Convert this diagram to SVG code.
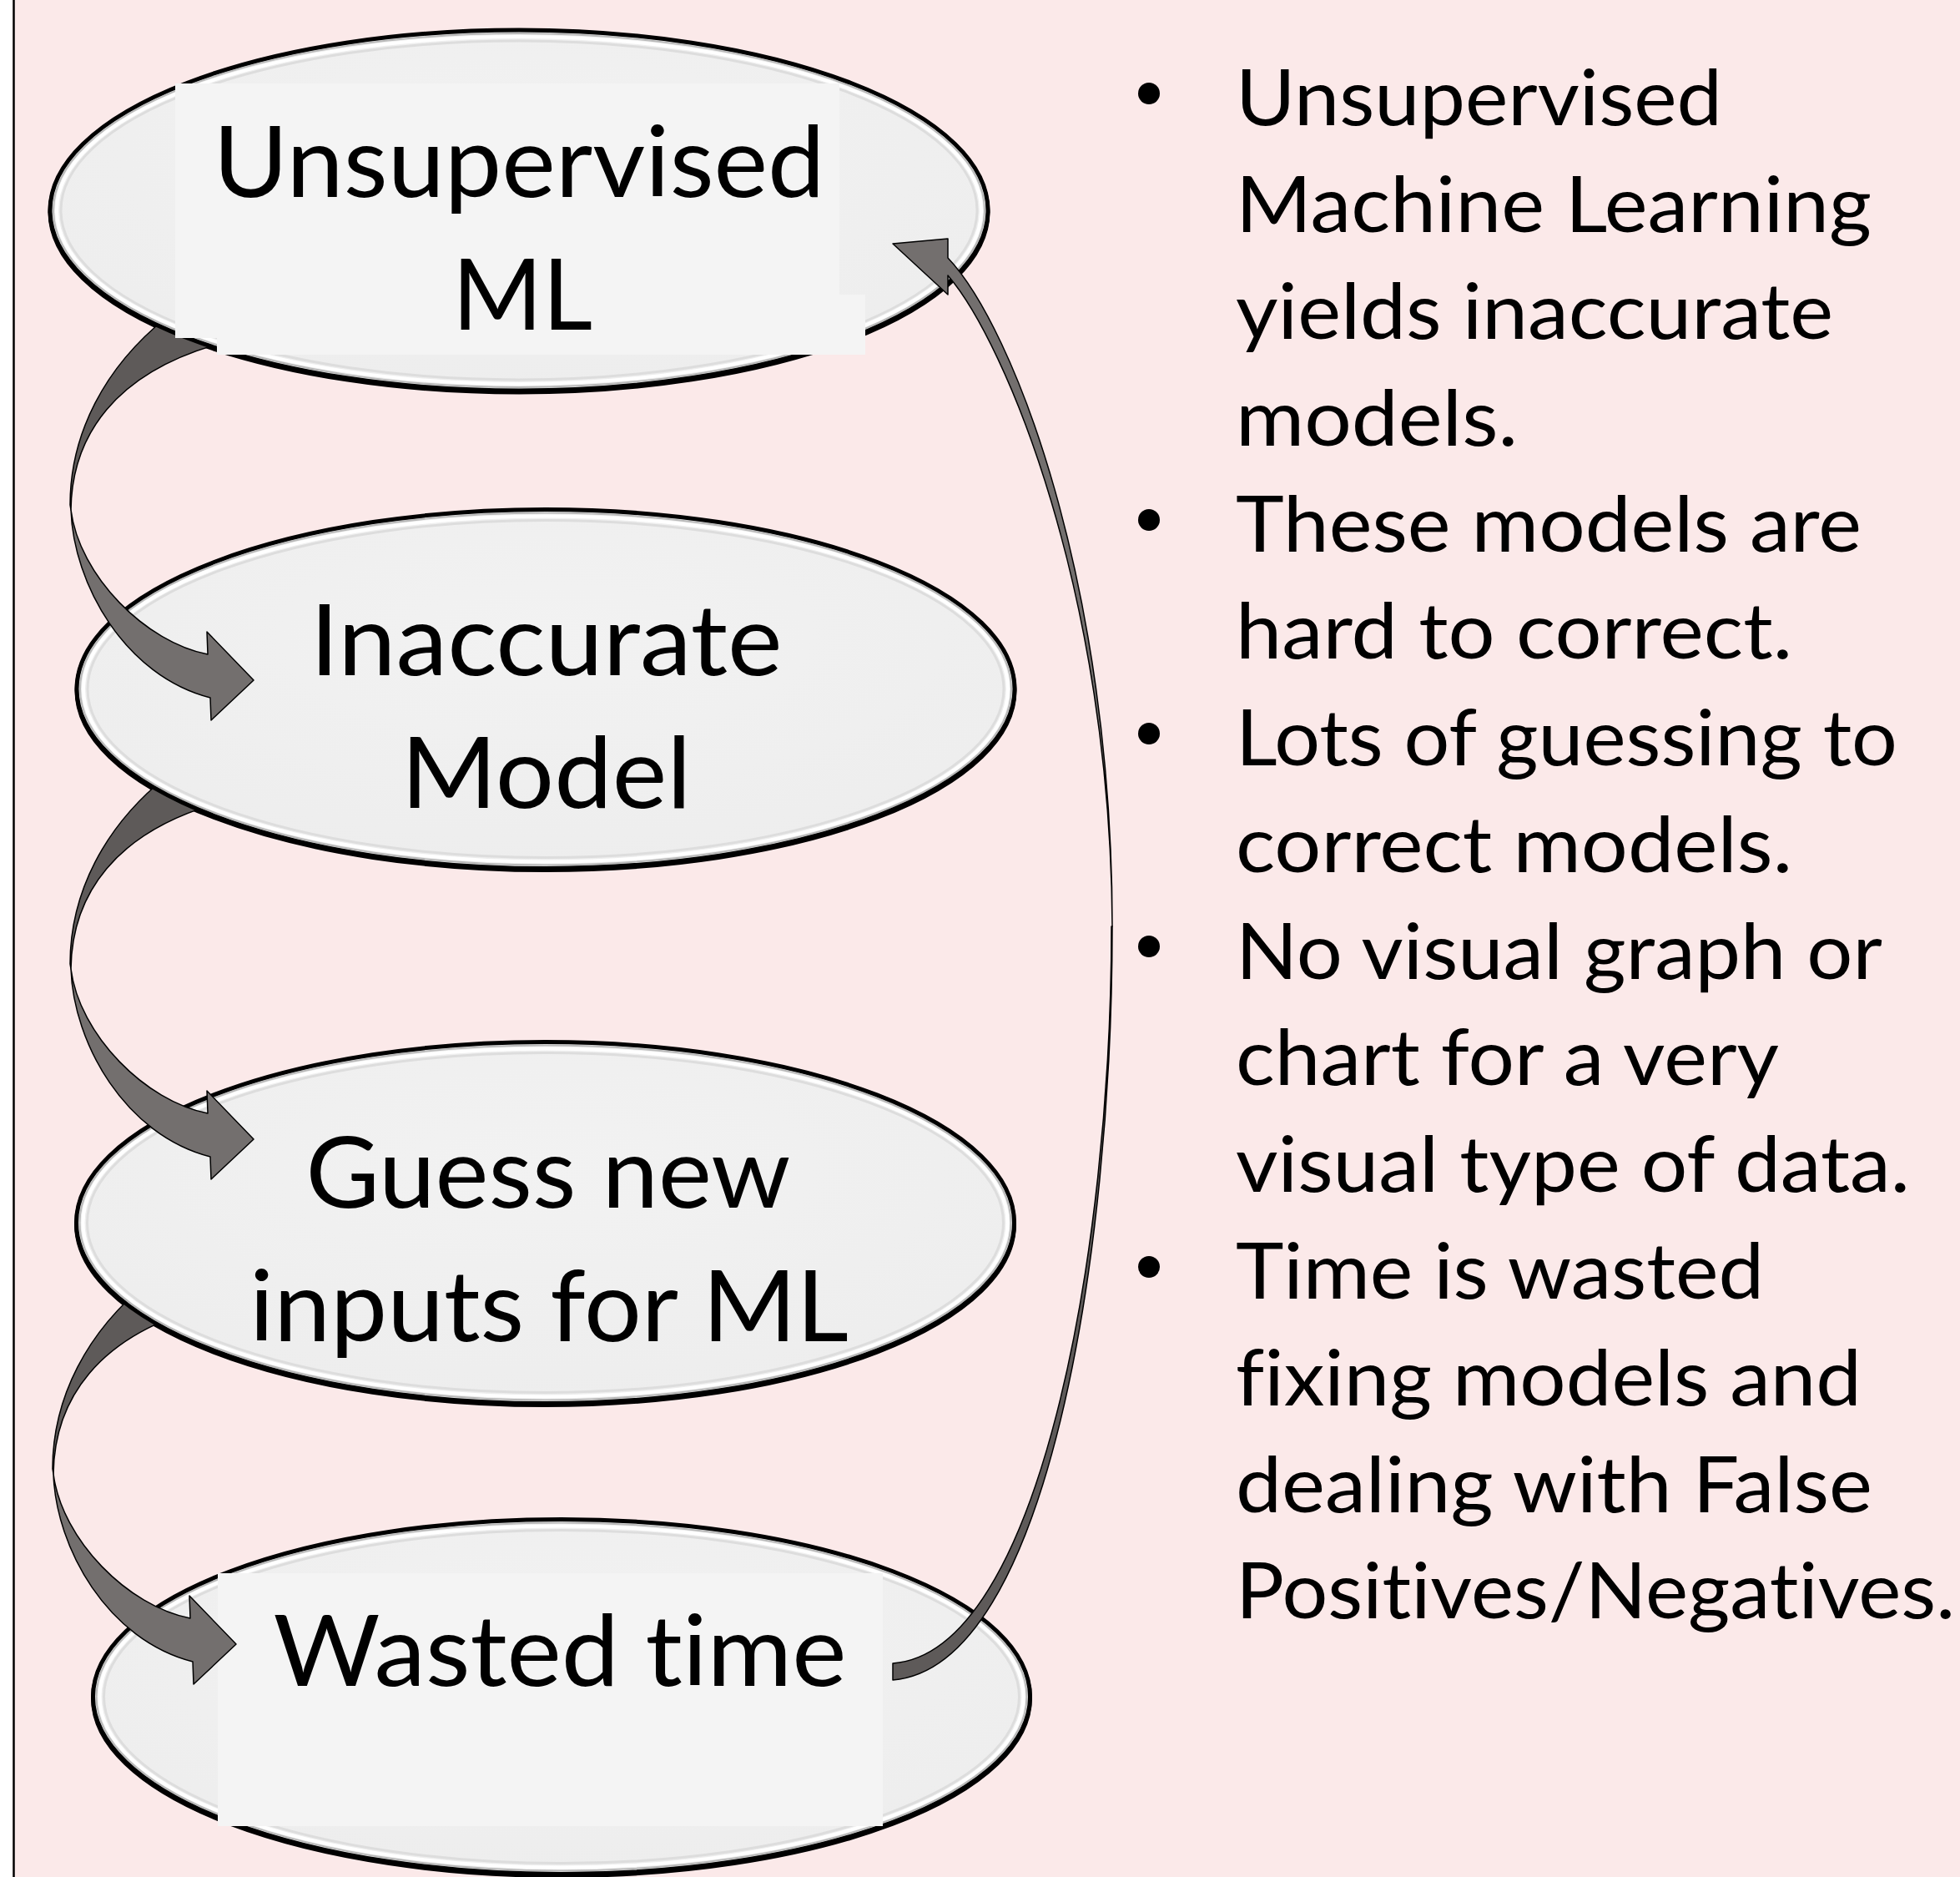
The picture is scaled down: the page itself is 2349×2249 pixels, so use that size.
<svg xmlns="http://www.w3.org/2000/svg" width="2349" height="2249" viewBox="0 0 2349 2249">
  <defs>
    <style>
      .bubble{fill:url(#bubbleFill);stroke:#000;stroke-width:5}
      .shade{fill:none;stroke:#000;stroke-width:5}
      .bevel{fill:none;stroke:#8c8c8c;stroke-width:2;opacity:.55}
      .glint{fill:none;stroke:#fff;stroke-width:4}
      .soft{fill:none;stroke:#dddddd;stroke-width:3}
      .tbox{fill:#f4f4f4}
      text{font-variant-ligatures:none;font-feature-settings:"liga" 0,"clig" 0,"dlig" 0}
      .lbl{font-family:Lato,"Open Sans","Liberation Sans",sans-serif;font-size:119px;fill:#000;text-anchor:middle}
      .note{font-family:Lato,"Open Sans","Liberation Sans",sans-serif;font-size:94px;fill:#000}
      .dot{fill:#000}
      .back{fill:#5e5a59;stroke:#000;stroke-width:1.5;stroke-linejoin:round}
      .front{fill:#736f6e;stroke:#000;stroke-width:1.5;stroke-linejoin:round}
    </style>
    <radialGradient id="bubbleFill" cx="50%" cy="35%" r="70%">
      <stop offset="0" stop-color="#f2f2f2"/>
      <stop offset="1" stop-color="#ededed"/>
    </radialGradient>
    <!-- curved ribbon arrow: darker back face (upper half) and lighter front face with head -->
    <path id="ribbonBack" class="back" d="M84,605 C84,520 125,440 200,380 L290,405 C130,440 86,530 85,611 Z"/>
    <path id="ribbonFront" class="front" d="M85,611 C88,700 150,810 252,836 L253,863 L304,815 L248,757 L249,784 C175,770 95,690 85,611 Z"/>
    <!-- masks hide each arrow tail beneath the bubble it leaves from -->
    <mask id="hide1" maskUnits="userSpaceOnUse" x="0" y="0" width="2349" height="2249">
      <rect x="0" y="0" width="2349" height="2249" fill="#fff"/>
      <ellipse cx="622" cy="252" rx="565" ry="219" fill="#000"/>
      <rect x="210" y="100" width="796" height="305" fill="#000"/>
      <rect x="260" y="353" width="777" height="72" fill="#000"/>
    </mask>
    <mask id="hide2" maskUnits="userSpaceOnUse" x="0" y="0" width="2349" height="2249">
      <rect x="0" y="0" width="2349" height="2249" fill="#fff"/>
      <ellipse cx="654" cy="825.5" rx="565" ry="218" fill="#000"/>
    </mask>
    <mask id="hide3" maskUnits="userSpaceOnUse" x="0" y="0" width="2349" height="2249">
      <rect x="0" y="0" width="2349" height="2249" fill="#fff"/>
      <ellipse cx="653.5" cy="1465" rx="565" ry="219" fill="#000"/>
    </mask>
  </defs>

  <!-- page background -->
  <rect x="0" y="0" width="2349" height="2249" fill="#fbe9e9"/>
  <rect x="0" y="0" width="15" height="2249" fill="#fff"/>
  <line x1="16.5" y1="0" x2="16.5" y2="2249" stroke="#000" stroke-width="2.5"/>

  <g id="node-unsupervised-ml">
    <ellipse class="shade" cx="622" cy="254" rx="562" ry="216"/>
    <ellipse class="bubble" cx="622" cy="252" rx="562" ry="216"/>
    <ellipse class="bevel" cx="622" cy="252" rx="558" ry="212"/>
    <ellipse class="glint" cx="622" cy="252" rx="554" ry="208"/>
    <ellipse class="soft" cx="622" cy="252" rx="549" ry="203"/>
    <rect class="tbox" x="210" y="100" width="796" height="305"/>
    <rect class="tbox" x="260" y="353" width="777" height="72"/>
    <text class="lbl" x="622" y="236" textLength="733" lengthAdjust="spacingAndGlyphs">Unsupervised</text>
    <text class="lbl" x="626" y="395" textLength="168" lengthAdjust="spacingAndGlyphs">ML</text>
  </g>

  <g id="node-inaccurate-model">
    <ellipse class="shade" cx="654" cy="827.5" rx="562" ry="215"/>
    <ellipse class="bubble" cx="654" cy="825.5" rx="562" ry="215"/>
    <ellipse class="bevel" cx="654" cy="825.5" rx="558" ry="211"/>
    <ellipse class="glint" cx="654" cy="825.5" rx="554" ry="207"/>
    <ellipse class="soft" cx="654" cy="825.5" rx="549" ry="202"/>
    <text class="lbl" x="654.5" y="809" textLength="566" lengthAdjust="spacingAndGlyphs">Inaccurate</text>
    <text class="lbl" x="654.5" y="968" textLength="348" lengthAdjust="spacingAndGlyphs">Model</text>
  </g>

  <g id="node-guess-inputs">
    <ellipse class="shade" cx="653.5" cy="1467" rx="562" ry="216.5"/>
    <ellipse class="bubble" cx="653.5" cy="1465" rx="562" ry="216.5"/>
    <ellipse class="bevel" cx="653.5" cy="1465" rx="558" ry="212.5"/>
    <ellipse class="glint" cx="653.5" cy="1465" rx="554" ry="208.5"/>
    <ellipse class="soft" cx="653.5" cy="1465" rx="549" ry="203.5"/>
    <text class="lbl" x="657" y="1447" textLength="581" lengthAdjust="spacingAndGlyphs">Guess new</text>
    <text class="lbl" x="658" y="1607" textLength="718" lengthAdjust="spacingAndGlyphs">inputs for ML</text>
  </g>

  <g id="node-wasted-time">
    <ellipse class="shade" cx="673" cy="2035" rx="561.5" ry="212.5"/>
    <ellipse class="bubble" cx="673" cy="2033" rx="561.5" ry="212.5"/>
    <ellipse class="bevel" cx="673" cy="2033" rx="557.5" ry="208.5"/>
    <ellipse class="glint" cx="673" cy="2033" rx="553.5" ry="204.5"/>
    <ellipse class="soft" cx="673" cy="2033" rx="548.5" ry="199.5"/>
    <rect class="tbox" x="261" y="1885" width="797" height="303"/>
    <text class="lbl" x="671" y="2020" textLength="687" lengthAdjust="spacingAndGlyphs">Wasted time</text>
  </g>

  <g id="notes">
    <circle class="dot" cx="1377" cy="112" r="13"/>
    <circle class="dot" cx="1377" cy="623" r="13"/>
    <circle class="dot" cx="1377" cy="879" r="13"/>
    <circle class="dot" cx="1377" cy="1134" r="13"/>
    <circle class="dot" cx="1377" cy="1518" r="13"/>
    <text class="note" x="1481" y="150" textLength="583" lengthAdjust="spacingAndGlyphs">Unsupervised</text>
    <text class="note" x="1481" y="278" textLength="762" lengthAdjust="spacingAndGlyphs">Machine Learning</text>
    <text class="note" x="1481" y="405.5" textLength="716" lengthAdjust="spacingAndGlyphs">yields inaccurate</text>
    <text class="note" x="1481" y="533.5" textLength="338" lengthAdjust="spacingAndGlyphs">models.</text>
    <text class="note" x="1481" y="661" textLength="750" lengthAdjust="spacingAndGlyphs">These models are</text>
    <text class="note" x="1481" y="789" textLength="667" lengthAdjust="spacingAndGlyphs">hard to correct.</text>
    <text class="note" x="1481" y="917" textLength="793" lengthAdjust="spacingAndGlyphs">Lots of guessing to</text>
    <text class="note" x="1481" y="1044.5" textLength="667" lengthAdjust="spacingAndGlyphs">correct models.</text>
    <text class="note" x="1481" y="1172.5" textLength="775" lengthAdjust="spacingAndGlyphs">No visual graph or</text>
    <text class="note" x="1481" y="1300" textLength="651" lengthAdjust="spacingAndGlyphs">chart for a very</text>
    <text class="note" x="1481" y="1428" textLength="808" lengthAdjust="spacingAndGlyphs">visual type of data.</text>
    <text class="note" x="1481" y="1556" textLength="633" lengthAdjust="spacingAndGlyphs">Time is wasted</text>
    <text class="note" x="1481" y="1683.5" textLength="750" lengthAdjust="spacingAndGlyphs">fixing models and</text>
    <text class="note" x="1481" y="1811.5" textLength="763" lengthAdjust="spacingAndGlyphs">dealing with False</text>
    <text class="note" x="1481" y="1939" textLength="862" lengthAdjust="spacingAndGlyphs">Positives/Negatives.</text>
  </g>

  <g id="connectors">
    <g id="edge-ml-to-model" mask="url(#hide1)">
      <use href="#ribbonBack"/>
      <use href="#ribbonFront"/>
    </g>
    <g id="edge-model-to-guess" mask="url(#hide2)">
      <use href="#ribbonBack" transform="translate(0,550)"/>
      <use href="#ribbonFront" transform="translate(0,550)"/>
    </g>
    <g id="edge-guess-to-wasted" mask="url(#hide3)">
      <use href="#ribbonBack" transform="translate(-21,1155)"/>
      <use href="#ribbonFront" transform="translate(-21,1155)"/>
    </g>
    <g id="edge-wasted-to-ml">
      <path class="back" d="M1333,1110 C1333,1500 1255,1998 1070,2013 L1070,1993 C1245,1980 1332,1500 1332,1110 Z"/>
      <path class="front" d="M1136,309 L1136,286 L1070,292 L1136,353 L1136,330 C1205,410 1331,710 1333,1110 C1333,700 1215,392 1136,309 Z"/>
    </g>
  </g>
</svg>
